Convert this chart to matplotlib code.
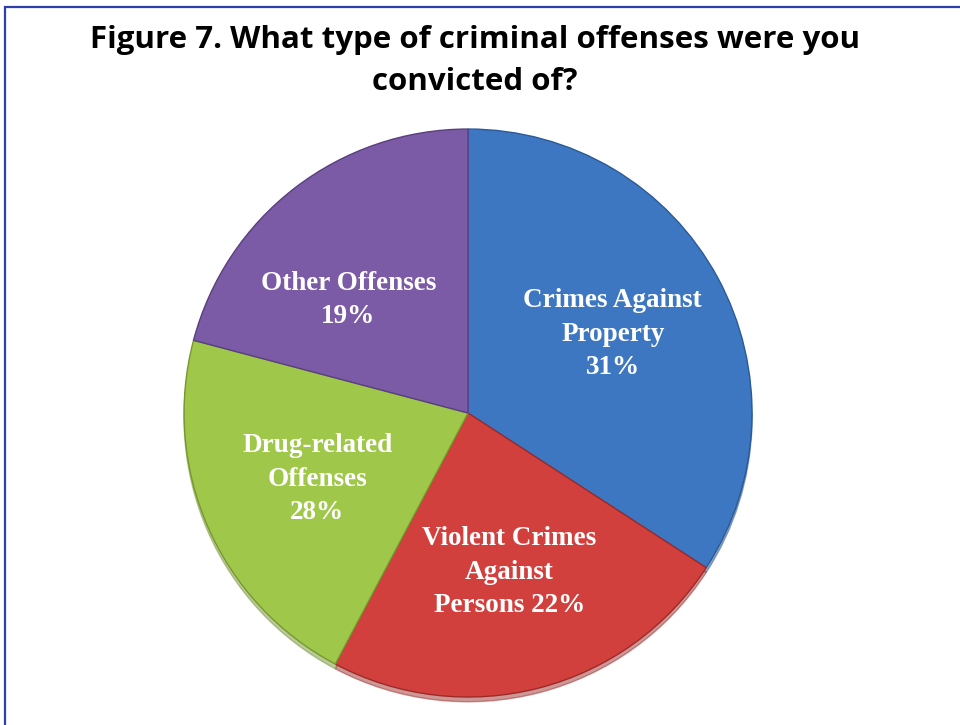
import numpy as np
import matplotlib
matplotlib.use('Agg')
import matplotlib.pyplot as plt
from matplotlib.patches import Rectangle

# slice sizes as drawn in the picture, labels as printed on it
categories = ['Crimes Against Property', 'Violent Crimes Against Persons',
              'Drug-related Offenses', 'Other Offenses']
slice_sizes = [34.2, 23.6, 21.4, 20.9]
label_texts = ['Crimes Against\nProperty\n31%',
               'Violent Crimes\nAgainst\nPersons 22%',
               'Drug-related\nOffenses\n28%',
               'Other Offenses\n19%']
colors = ['#3e77c1', '#d1403d', '#9fc84a', '#7b5aa6']
edges = ['#2b5a96', '#9c2a28', '#77982f', '#5a3f7f']

fig = plt.figure(figsize=(9.6, 7.25), dpi=100)

# blue frame round the chart (runs off right and bottom edges)
fig.patches.append(Rectangle((5 / 960, -0.1), 1.2, 1.1 - 7 / 725, transform=fig.transFigure,
                             fill=False, edgecolor='#2f3fae', linewidth=1.6, clip_on=False))

ax = fig.add_axes([0.1917, 0.0386, 0.5917, 0.7834])
wedges, texts = ax.pie(slice_sizes, labels=label_texts, colors=colors, startangle=90,
                       counterclock=False, labeldistance=0.58,
                       wedgeprops=dict(linewidth=1.0),
                       textprops=dict(color='white', fontsize=19.5, fontweight='bold',
                                      family='Liberation Serif', linespacing=1.45),
                       shadow=dict(ox=0.0, oy=-0.012, shade=0.25))
for w, ec in zip(wedges, edges):
    w.set_edgecolor(ec)
for t in texts:
    t.set_ha('center')
    t.set_va('center')

# the "Other Offenses" label sits a little further round than the slice middle
w = wedges[3]
ang = np.deg2rad((w.theta1 + w.theta2) / 2 + 9)
texts[3].set_position((0.58 * np.cos(ang), 0.58 * np.sin(ang)))

ax.set_xlim(-1, 1)
ax.set_ylim(-1, 1)
ax.set_aspect('equal')

fig.text(0.495, 1 - 61 / 725, 'Figure 7. What type of criminal offenses were you\nconvicted of?',
         ha='center', va='center', fontsize=22.5, fontweight='bold', family='Open Sans',
         linespacing=1.5, color='black')

fig.savefig('out.png', dpi=100)
